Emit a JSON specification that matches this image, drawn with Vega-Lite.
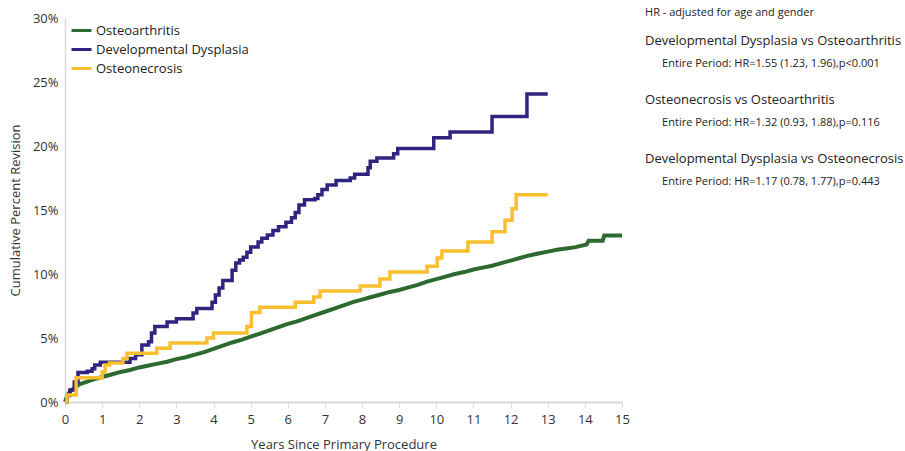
{
  "$schema": "https://vega.github.io/schema/vega-lite/v6.json",
  "width": 557,
  "height": 384,
  "autosize": {"type": "none"},
  "padding": {"left": 65, "top": 18, "right": 283, "bottom": 49},
  "background": "white",
  "config": {"font": "Open Sans", "view": {"stroke": null}, "axis": {"grid": false}},
  "datasets": {
    "curves": [
      {"group": "Osteoarthritis", "years": 0, "pct": 0},
      {"group": "Osteoarthritis", "years": 0.05, "pct": 0.4},
      {"group": "Osteoarthritis", "years": 0.1, "pct": 0.7},
      {"group": "Osteoarthritis", "years": 0.2, "pct": 1.0},
      {"group": "Osteoarthritis", "years": 0.3, "pct": 1.2},
      {"group": "Osteoarthritis", "years": 0.4, "pct": 1.4},
      {"group": "Osteoarthritis", "years": 0.5, "pct": 1.5},
      {"group": "Osteoarthritis", "years": 0.75, "pct": 1.75},
      {"group": "Osteoarthritis", "years": 1.0, "pct": 1.95},
      {"group": "Osteoarthritis", "years": 1.25, "pct": 2.15},
      {"group": "Osteoarthritis", "years": 1.5, "pct": 2.35},
      {"group": "Osteoarthritis", "years": 1.75, "pct": 2.5},
      {"group": "Osteoarthritis", "years": 2.0, "pct": 2.7},
      {"group": "Osteoarthritis", "years": 2.25, "pct": 2.85},
      {"group": "Osteoarthritis", "years": 2.5, "pct": 3.0},
      {"group": "Osteoarthritis", "years": 2.75, "pct": 3.15},
      {"group": "Osteoarthritis", "years": 3.0, "pct": 3.35},
      {"group": "Osteoarthritis", "years": 3.25, "pct": 3.5},
      {"group": "Osteoarthritis", "years": 3.5, "pct": 3.7},
      {"group": "Osteoarthritis", "years": 3.75, "pct": 3.9},
      {"group": "Osteoarthritis", "years": 4.0, "pct": 4.15},
      {"group": "Osteoarthritis", "years": 4.25, "pct": 4.4},
      {"group": "Osteoarthritis", "years": 4.5, "pct": 4.65},
      {"group": "Osteoarthritis", "years": 4.75, "pct": 4.85},
      {"group": "Osteoarthritis", "years": 5.0, "pct": 5.1},
      {"group": "Osteoarthritis", "years": 5.25, "pct": 5.35},
      {"group": "Osteoarthritis", "years": 5.5, "pct": 5.6},
      {"group": "Osteoarthritis", "years": 5.75, "pct": 5.85},
      {"group": "Osteoarthritis", "years": 6.0, "pct": 6.1},
      {"group": "Osteoarthritis", "years": 6.25, "pct": 6.3},
      {"group": "Osteoarthritis", "years": 6.5, "pct": 6.55},
      {"group": "Osteoarthritis", "years": 6.75, "pct": 6.8},
      {"group": "Osteoarthritis", "years": 7.0, "pct": 7.05},
      {"group": "Osteoarthritis", "years": 7.25, "pct": 7.3},
      {"group": "Osteoarthritis", "years": 7.5, "pct": 7.55},
      {"group": "Osteoarthritis", "years": 7.75, "pct": 7.8},
      {"group": "Osteoarthritis", "years": 8.0, "pct": 8.0},
      {"group": "Osteoarthritis", "years": 8.25, "pct": 8.2},
      {"group": "Osteoarthritis", "years": 8.5, "pct": 8.4},
      {"group": "Osteoarthritis", "years": 8.75, "pct": 8.6},
      {"group": "Osteoarthritis", "years": 9.0, "pct": 8.75},
      {"group": "Osteoarthritis", "years": 9.25, "pct": 8.95},
      {"group": "Osteoarthritis", "years": 9.5, "pct": 9.15},
      {"group": "Osteoarthritis", "years": 9.75, "pct": 9.4},
      {"group": "Osteoarthritis", "years": 10.0, "pct": 9.6},
      {"group": "Osteoarthritis", "years": 10.25, "pct": 9.8},
      {"group": "Osteoarthritis", "years": 10.5, "pct": 10.0},
      {"group": "Osteoarthritis", "years": 10.75, "pct": 10.15},
      {"group": "Osteoarthritis", "years": 11.0, "pct": 10.35},
      {"group": "Osteoarthritis", "years": 11.25, "pct": 10.5},
      {"group": "Osteoarthritis", "years": 11.5, "pct": 10.65},
      {"group": "Osteoarthritis", "years": 11.75, "pct": 10.85},
      {"group": "Osteoarthritis", "years": 12.0, "pct": 11.05},
      {"group": "Osteoarthritis", "years": 12.25, "pct": 11.25},
      {"group": "Osteoarthritis", "years": 12.5, "pct": 11.45},
      {"group": "Osteoarthritis", "years": 12.75, "pct": 11.6},
      {"group": "Osteoarthritis", "years": 13.0, "pct": 11.75},
      {"group": "Osteoarthritis", "years": 13.25, "pct": 11.9},
      {"group": "Osteoarthritis", "years": 13.5, "pct": 12.0},
      {"group": "Osteoarthritis", "years": 13.75, "pct": 12.1},
      {"group": "Osteoarthritis", "years": 14.05, "pct": 12.3},
      {"group": "Osteoarthritis", "years": 14.1, "pct": 12.6},
      {"group": "Osteoarthritis", "years": 14.48, "pct": 12.6},
      {"group": "Osteoarthritis", "years": 14.52, "pct": 13.0},
      {"group": "Osteoarthritis", "years": 15.0, "pct": 13.0},

      {"group": "Developmental Dysplasia", "years": 0, "pct": 0},
      {"group": "Developmental Dysplasia", "years": 0.05, "pct": 0.5},
      {"group": "Developmental Dysplasia", "years": 0.13, "pct": 0.94},
      {"group": "Developmental Dysplasia", "years": 0.25, "pct": 1.56},
      {"group": "Developmental Dysplasia", "years": 0.35, "pct": 2.3},
      {"group": "Developmental Dysplasia", "years": 0.6, "pct": 2.4},
      {"group": "Developmental Dysplasia", "years": 0.73, "pct": 2.6},
      {"group": "Developmental Dysplasia", "years": 0.8, "pct": 2.9},
      {"group": "Developmental Dysplasia", "years": 0.95, "pct": 3.1},
      {"group": "Developmental Dysplasia", "years": 1.75, "pct": 3.4},
      {"group": "Developmental Dysplasia", "years": 1.9, "pct": 3.7},
      {"group": "Developmental Dysplasia", "years": 2.07, "pct": 4.45},
      {"group": "Developmental Dysplasia", "years": 2.25, "pct": 4.7},
      {"group": "Developmental Dysplasia", "years": 2.33, "pct": 5.4},
      {"group": "Developmental Dysplasia", "years": 2.42, "pct": 5.9},
      {"group": "Developmental Dysplasia", "years": 2.75, "pct": 6.25},
      {"group": "Developmental Dysplasia", "years": 3.0, "pct": 6.5},
      {"group": "Developmental Dysplasia", "years": 3.45, "pct": 6.95},
      {"group": "Developmental Dysplasia", "years": 3.55, "pct": 7.3},
      {"group": "Developmental Dysplasia", "years": 3.96, "pct": 7.8},
      {"group": "Developmental Dysplasia", "years": 4.05, "pct": 8.35},
      {"group": "Developmental Dysplasia", "years": 4.15, "pct": 8.9},
      {"group": "Developmental Dysplasia", "years": 4.25, "pct": 9.5},
      {"group": "Developmental Dysplasia", "years": 4.5, "pct": 10.3},
      {"group": "Developmental Dysplasia", "years": 4.6, "pct": 10.85},
      {"group": "Developmental Dysplasia", "years": 4.7, "pct": 11.1},
      {"group": "Developmental Dysplasia", "years": 4.8, "pct": 11.3},
      {"group": "Developmental Dysplasia", "years": 4.9, "pct": 11.7},
      {"group": "Developmental Dysplasia", "years": 5.0, "pct": 12.1},
      {"group": "Developmental Dysplasia", "years": 5.2, "pct": 12.5},
      {"group": "Developmental Dysplasia", "years": 5.3, "pct": 12.8},
      {"group": "Developmental Dysplasia", "years": 5.45, "pct": 13.05},
      {"group": "Developmental Dysplasia", "years": 5.6, "pct": 13.4},
      {"group": "Developmental Dysplasia", "years": 5.75, "pct": 13.7},
      {"group": "Developmental Dysplasia", "years": 5.95, "pct": 14.05},
      {"group": "Developmental Dysplasia", "years": 6.1, "pct": 14.4},
      {"group": "Developmental Dysplasia", "years": 6.2, "pct": 14.8},
      {"group": "Developmental Dysplasia", "years": 6.3, "pct": 15.4},
      {"group": "Developmental Dysplasia", "years": 6.45, "pct": 15.8},
      {"group": "Developmental Dysplasia", "years": 6.73, "pct": 15.9},
      {"group": "Developmental Dysplasia", "years": 6.81, "pct": 16.2},
      {"group": "Developmental Dysplasia", "years": 6.92, "pct": 16.6},
      {"group": "Developmental Dysplasia", "years": 7.06, "pct": 16.95},
      {"group": "Developmental Dysplasia", "years": 7.3, "pct": 17.3},
      {"group": "Developmental Dysplasia", "years": 7.68, "pct": 17.5},
      {"group": "Developmental Dysplasia", "years": 7.8, "pct": 17.8},
      {"group": "Developmental Dysplasia", "years": 8.16, "pct": 18.3},
      {"group": "Developmental Dysplasia", "years": 8.22, "pct": 18.8},
      {"group": "Developmental Dysplasia", "years": 8.4, "pct": 19.06},
      {"group": "Developmental Dysplasia", "years": 8.85, "pct": 19.4},
      {"group": "Developmental Dysplasia", "years": 8.96, "pct": 19.8},
      {"group": "Developmental Dysplasia", "years": 9.93, "pct": 20.65},
      {"group": "Developmental Dysplasia", "years": 10.37, "pct": 21.1},
      {"group": "Developmental Dysplasia", "years": 11.5, "pct": 22.3},
      {"group": "Developmental Dysplasia", "years": 12.44, "pct": 24.06},
      {"group": "Developmental Dysplasia", "years": 13.0, "pct": 24.06},

      {"group": "Osteonecrosis", "years": 0, "pct": 0},
      {"group": "Osteonecrosis", "years": 0.05, "pct": 0.55},
      {"group": "Osteonecrosis", "years": 0.3, "pct": 1.9},
      {"group": "Osteonecrosis", "years": 1.0, "pct": 2.35},
      {"group": "Osteonecrosis", "years": 1.08, "pct": 2.9},
      {"group": "Osteonecrosis", "years": 1.2, "pct": 3.05},
      {"group": "Osteonecrosis", "years": 1.56, "pct": 3.4},
      {"group": "Osteonecrosis", "years": 1.67, "pct": 3.8},
      {"group": "Osteonecrosis", "years": 2.47, "pct": 4.2},
      {"group": "Osteonecrosis", "years": 2.83, "pct": 4.6},
      {"group": "Osteonecrosis", "years": 3.82, "pct": 5.0},
      {"group": "Osteonecrosis", "years": 4.0, "pct": 5.4},
      {"group": "Osteonecrosis", "years": 4.9, "pct": 5.9},
      {"group": "Osteonecrosis", "years": 5.02, "pct": 7.0},
      {"group": "Osteonecrosis", "years": 5.25, "pct": 7.4},
      {"group": "Osteonecrosis", "years": 6.2, "pct": 7.8},
      {"group": "Osteonecrosis", "years": 6.7, "pct": 8.2},
      {"group": "Osteonecrosis", "years": 6.87, "pct": 8.67},
      {"group": "Osteonecrosis", "years": 7.95, "pct": 9.06},
      {"group": "Osteonecrosis", "years": 8.48, "pct": 9.6},
      {"group": "Osteonecrosis", "years": 8.75, "pct": 10.15},
      {"group": "Osteonecrosis", "years": 9.75, "pct": 10.6},
      {"group": "Osteonecrosis", "years": 10.02, "pct": 11.25},
      {"group": "Osteonecrosis", "years": 10.15, "pct": 11.8},
      {"group": "Osteonecrosis", "years": 10.85, "pct": 12.5},
      {"group": "Osteonecrosis", "years": 11.5, "pct": 13.3},
      {"group": "Osteonecrosis", "years": 11.85, "pct": 14.2},
      {"group": "Osteonecrosis", "years": 12.04, "pct": 15.1},
      {"group": "Osteonecrosis", "years": 12.15, "pct": 16.2},
      {"group": "Osteonecrosis", "years": 13.0, "pct": 16.2}
    ],
    "notes": [
      {"kind": "note", "years": 15.62, "pct": 30.39, "label": "HR - adjusted for age and gender"},
      {"kind": "comparison", "years": 15.62, "pct": 28.2, "label": "Developmental Dysplasia vs Osteoarthritis"},
      {"kind": "result", "years": 16.08, "pct": 26.4, "label": "Entire Period: HR=1.55 (1.23, 1.96),p<0.001"},
      {"kind": "comparison", "years": 15.62, "pct": 23.59, "label": "Osteonecrosis vs Osteoarthritis"},
      {"kind": "result", "years": 16.08, "pct": 21.8, "label": "Entire Period: HR=1.32 (0.93, 1.88),p=0.116"},
      {"kind": "comparison", "years": 15.62, "pct": 18.98, "label": "Developmental Dysplasia vs Osteonecrosis"},
      {"kind": "result", "years": 16.08, "pct": 17.19, "label": "Entire Period: HR=1.17 (0.78, 1.77),p=0.443"}
    ]
  },
  "encoding": {
    "x": {
      "field": "years", "type": "quantitative",
      "scale": {"domain": [0, 15], "nice": false, "zero": true},
      "axis": {
        "values": [0,1,2,3,4,5,6,7,8,9,10,11,12,13,14,15],
        "labelOverlap": false,
        "title": "Years Since Primary Procedure",
        "titleFontSize": 13, "titleFontWeight": "normal", "titleColor": "#333333", "titlePadding": 12,
        "labelFontSize": 13, "labelColor": "#333333", "labelPadding": 6,
        "domainColor": "#d9d9d9", "domainWidth": 2,
        "tickColor": "#d9d9d9", "tickSize": 5, "tickWidth": 1, "labelFlush": false
      }
    },
    "y": {
      "field": "pct", "type": "quantitative",
      "scale": {"domain": [0, 30], "nice": false},
      "axis": {
        "values": [0,5,10,15,20,25,30],
        "labelOverlap": false,
        "labelExpr": "datum.value + '%'",
        "title": "Cumulative Percent Revision",
        "titleFontSize": 13, "titleFontWeight": "normal", "titleColor": "#333333", "titlePadding": 10,
        "labelFontSize": 13, "labelColor": "#333333", "labelPadding": 7,
        "domainColor": "#d9d9d9", "domainWidth": 1.5, "ticks": false
      }
    }
  },
  "layer": [
    {
      "data": {"name": "curves"},
      "transform": [{"filter": "datum.group == 'Osteoarthritis'"}],
      "mark": {"type": "line", "interpolate": "linear", "strokeWidth": 4, "clip": false},
      "encoding": {
        "color": {
          "field": "group", "type": "nominal",
          "scale": {
            "domain": ["Osteoarthritis", "Developmental Dysplasia", "Osteonecrosis"],
            "range": ["#2D6A30", "#2F2480", "#F9BF2F"]
          },
          "legend": {
            "orient": "none", "legendX": 5, "legendY": 1, "title": null,
            "symbolType": "stroke", "symbolSize": 400, "symbolStrokeWidth": 3,
            "labelFontSize": 13, "labelColor": "#222222", "labelOffset": 3, "rowPadding": -1
          }
        }
      }
    },
    {
      "data": {"name": "curves"},
      "transform": [{"filter": "datum.group != 'Osteoarthritis'"}],
      "mark": {"type": "line", "interpolate": "step-after", "strokeWidth": 3.5, "clip": false},
      "encoding": {
        "color": {"field": "group", "type": "nominal"}
      }
    },
    {
      "data": {"name": "notes"},
      "transform": [{"filter": "datum.kind == 'comparison'"}],
      "mark": {"type": "text", "align": "left", "baseline": "middle", "fontSize": 13, "color": "#222222", "clip": false},
      "encoding": {
        "text": {"field": "label"}
      }
    },
    {
      "data": {"name": "notes"},
      "transform": [{"filter": "datum.kind != 'comparison'"}],
      "mark": {"type": "text", "align": "left", "baseline": "middle", "fontSize": 11, "color": "#222222", "clip": false},
      "encoding": {
        "text": {"field": "label"}
      }
    }
  ]
}
